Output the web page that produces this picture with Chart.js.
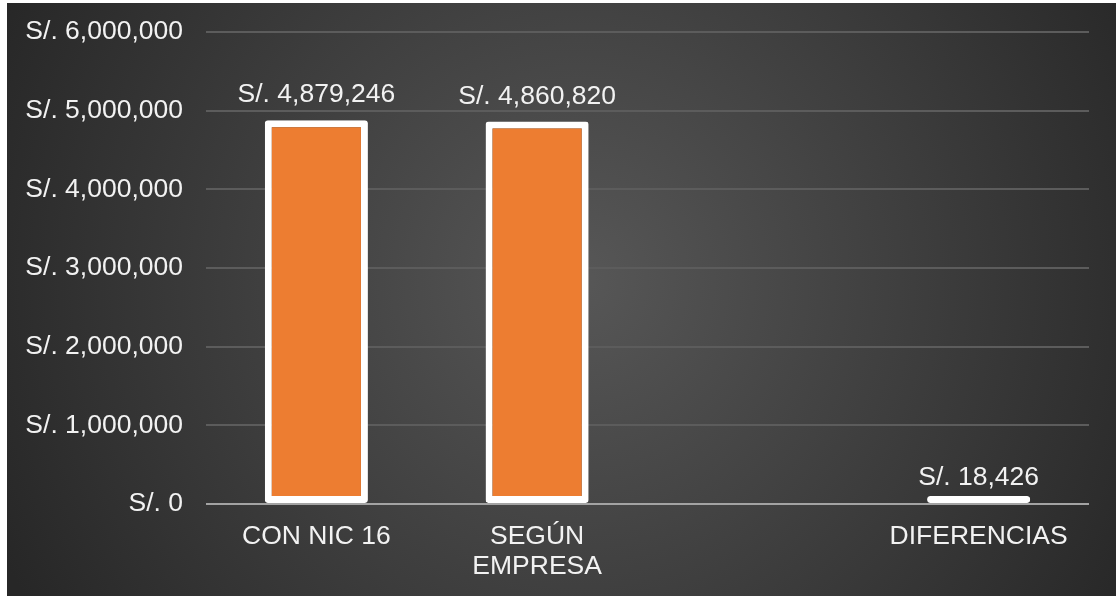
<!DOCTYPE html>
<html lang="es">
<head>
    <meta charset="UTF-8">
    <title>NIC 16</title>
    <style>
        body { margin: 0; background: #fff; }
        canvas { display: block; }
    </style>
</head>
<body>
    <canvas id="chart" width="1116" height="596"></canvas>
    <script src="https://cdn.jsdelivr.net/npm/chart.js@4.4.0/dist/chart.umd.min.js"></script>
    <script>
        const categories = ['CON NIC 16', ['SEGÚN', 'EMPRESA'], '', 'DIFERENCIAS']
        const values = [4879246, 4860820, null, 18426]
        const yTicks = [0, 1000000, 2000000, 3000000, 4000000, 5000000, 6000000]

        const FONT = '"Liberation Sans", Arial, sans-serif'
        const money = v => 'S/. ' + Number(v).toLocaleString('en-US')

        const background = {
            id: 'background',
            beforeDraw(chart) {
                const ctx = chart.ctx
                ctx.save()
                ctx.fillStyle = '#ffffff'
                ctx.fillRect(0, 0, chart.width, chart.height)
                const g = ctx.createRadialGradient(580, 280, 0, 580, 280, 640)
                g.addColorStop(0, '#575757')
                g.addColorStop(1, '#272727')
                ctx.fillStyle = g
                ctx.fillRect(7, 3, chart.width - 7, chart.height - 3)
                ctx.restore()
            }
        }

        const valueLabels = {
            id: 'valueLabels',
            afterDatasetsDraw(chart) {
                const ctx = chart.ctx
                const y = chart.scales.y
                const meta = chart.getDatasetMeta(0)
                ctx.save()
                ctx.font = '26.5px ' + FONT
                ctx.fillStyle = '#f2f2f2'
                ctx.textAlign = 'center'
                ctx.textBaseline = 'alphabetic'
                meta.data.forEach((bar, i) => {
                    const v = values[i]
                    if (v === null) return
                    ctx.fillText(money(v), bar.x, y.getPixelForValue(v) - 18)
                })
                ctx.restore()
            }
        }

        new Chart(document.getElementById('chart').getContext('2d'), {
            type: 'bar',
            data: {
                labels: categories,
                datasets: [{
                    data: values,
                    backgroundColor: '#ed7d31',
                    borderColor: '#ffffff',
                    borderWidth: 7,
                    borderRadius: 3,
                    borderSkipped: false,
                    minBarLength: 8,
                    barPercentage: 0.467,
                    categoryPercentage: 1
                }]
            },
            options: {
                responsive: false,
                animation: false,
                layout: { padding: { top: 32, right: 27, left: 0, bottom: 0 } },
                plugins: {
                    legend: { display: false },
                    tooltip: { enabled: false }
                },
                scales: {
                    x: {
                        grid: { display: false },
                        border: { display: false },
                        ticks: {
                            color: '#f2f2f2',
                            padding: 10,
                            maxRotation: 0,
                            autoSkip: false,
                            font: { family: FONT, size: 26.5, lineHeight: 1.13 }
                        },
                        afterFit: s => { s.height = 92 }
                    },
                    y: {
                        min: 0,
                        max: 6000000,
                        afterBuildTicks: s => { s.ticks = yTicks.map(v => ({ value: v })) },
                        grid: {
                            drawTicks: false,
                            lineWidth: 2,
                            color: c => c.tick && c.tick.value === 0 ? '#a3a3a3' : '#5c5c5c'
                        },
                        border: { display: false },
                        ticks: {
                            color: '#f2f2f2',
                            padding: 23,
                            font: { family: FONT, size: 26.5 },
                            callback: v => money(v)
                        },
                        afterFit: s => {
                            s.width = 206
                            s.paddingTop = 0
                            s.paddingBottom = 0
                        }
                    }
                }
            },
            plugins: [background, valueLabels]
        })
    </script>
</body>
</html>
